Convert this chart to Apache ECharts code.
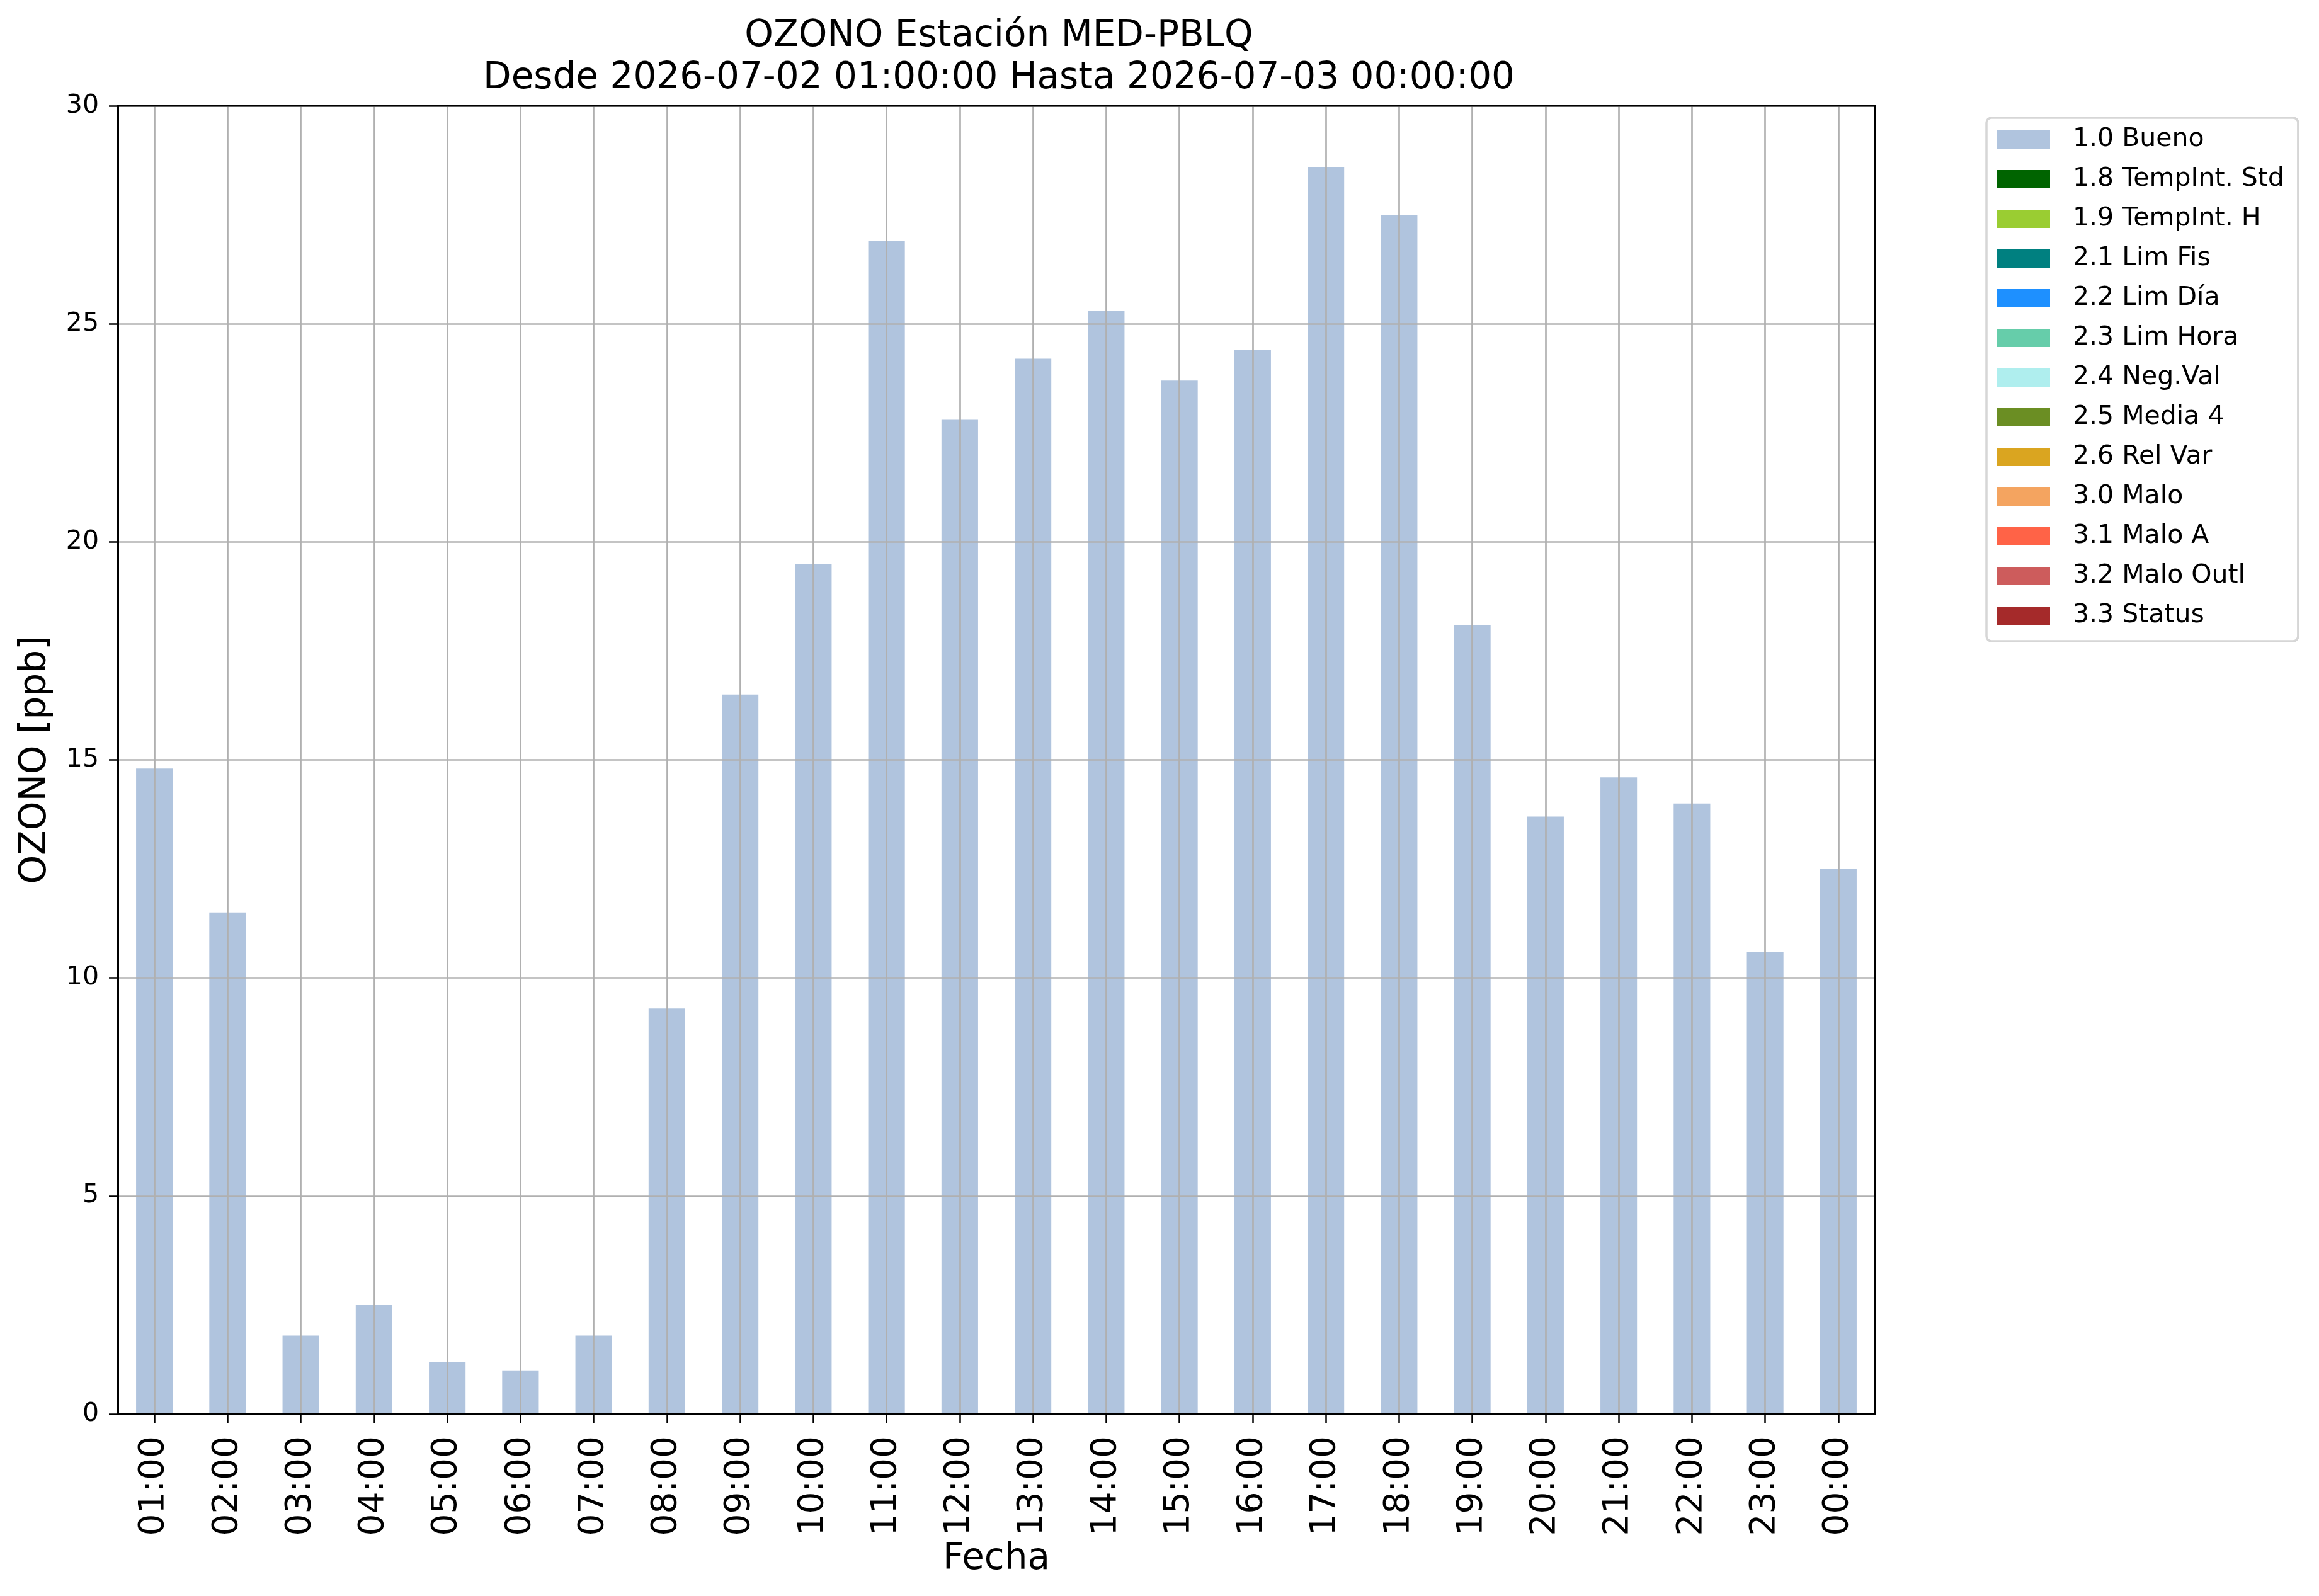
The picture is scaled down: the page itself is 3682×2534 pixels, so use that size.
<!DOCTYPE html>
<html><head><meta charset="utf-8">
<script src="https://cdn.jsdelivr.net/npm/echarts@6/dist/echarts.min.js"></script>
<style>html,body{margin:0;padding:0;background:#fff}#c{width:3682px;height:2534px}</style>
</head><body><div id="c"></div>
<script>
const categories = ['01:00','02:00','03:00','04:00','05:00','06:00','07:00','08:00','09:00','10:00','11:00','12:00','13:00','14:00','15:00','16:00','17:00','18:00','19:00','20:00','21:00','22:00','23:00','00:00'];
const bueno = [14.8,11.5,1.8,2.5,1.2,1.0,1.8,9.3,16.5,19.5,26.9,22.8,24.2,25.3,23.7,24.4,28.6,27.5,18.1,13.7,14.6,14.0,10.6,12.5];
const flagNames = ['1.0 Bueno','1.8 TempInt. Std','1.9 TempInt. H','2.1 Lim Fis','2.2 Lim Día','2.3 Lim Hora','2.4 Neg.Val','2.5 Media 4','2.6 Rel Var','3.0 Malo','3.1 Malo A','3.2 Malo Outl','3.3 Status'];
const flagColors = ['#B0C4DE','#006400','#9ACD32','#008080','#1E90FF','#66CDAA','#AFEEEE','#6B8E23','#DAA520','#F4A460','#FF6347','#CD5C5C','#A52A2A'];
const yTicks = [0,5,10,15,20,25,30];

const FONT = 'DejaVu Sans';
const series = flagNames.map((n,i)=>({
  name:n, type:'bar', stack:'q', barWidth:'50%',
  itemStyle:{color:flagColors[i]},
  data: i===0 ? bueno : categories.map(()=>null),
  z:2
}));

const chart = echarts.init(document.getElementById('c'));
chart.setOption({
  animation:false,
  textStyle:{fontFamily:FONT},
  title:{
    text:'OZONO Estación MED-PBLQ\nDesde 2026-07-02 01:00:00 Hasta 2026-07-03 00:00:00',
    left:1581, top:19, textAlign:'center',
    textStyle:{fontFamily:FONT,fontSize:58,fontWeight:'normal',color:'#000',lineHeight:67}
  },
  legend:{
    orient:'vertical', left:3154, top:187,
    padding:[14,22,20,17],
    itemWidth:84, itemHeight:29, itemGap:22,
    icon:'rect',
    borderColor:'#d6d6d6', borderWidth:3.5, borderRadius:8,
    textStyle:{fontFamily:FONT,fontSize:41,lineHeight:41,color:'#000',padding:[0,0,0,31]},
    data:flagNames
  },
  grid:{left:187,top:168,width:2790,height:2077,show:true,borderColor:'#000',borderWidth:3,backgroundColor:'transparent',z:6},
  xAxis:{
    type:'category', data:categories, boundaryGap:true, z:5,
    name:'Fecha', nameLocation:'middle', nameGap:202,
    nameTextStyle:{fontFamily:FONT,fontSize:58,color:'#000'},
    axisLine:{show:true,lineStyle:{color:'#000',width:3}},
    axisTick:{show:true,alignWithLabel:true,length:14,lineStyle:{color:'#000',width:2.5}},
    axisLabel:{rotate:90,fontFamily:FONT,fontSize:55,color:'#000',margin:35},
    splitLine:{show:true,alignWithLabel:true,lineStyle:{color:'#b0b0b0',width:2.7}}
  },
  yAxis:{
    type:'value', min:0, max:30, interval:5, z:5,
    name:'OZONO [ppb]', nameLocation:'middle', nameGap:101,
    nameTextStyle:{fontFamily:FONT,fontSize:58,color:'#000'},
    axisLine:{show:true,lineStyle:{color:'#000',width:3}},
    axisTick:{show:true,length:14,lineStyle:{color:'#000',width:2.5}},
    axisLabel:{fontFamily:FONT,fontSize:41,color:'#000',margin:30,
      formatter:v=>yTicks.includes(v)?String(v):''},
    splitLine:{show:true,lineStyle:{color:'#b0b0b0',width:2.7}}
  },
  series:series
});
</script></body></html>
